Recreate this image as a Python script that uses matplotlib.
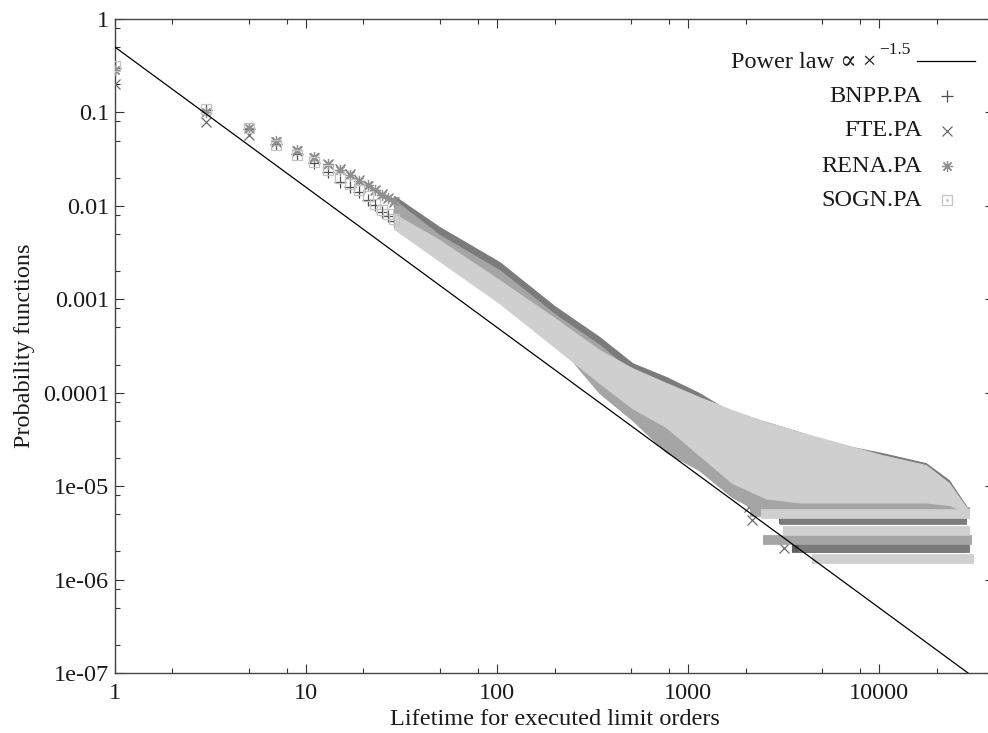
import numpy as np
import matplotlib
matplotlib.use('Agg')
import matplotlib.pyplot as plt
from matplotlib.ticker import LogLocator, FixedLocator, FixedFormatter, NullFormatter
from matplotlib.lines import Line2D

plt.rcParams['font.family'] = ['Liberation Serif', 'DejaVu Serif']

# ---- data ----
series_names = ['BNPP.PA', 'FTE.PA', 'RENA.PA', 'SOGN.PA']

# power law guide: prefactor and exponent
power_law_x = [1, 40000]
power_law_a = 0.5
power_law_k = -1.5

# separate points at small lifetimes
sparse_x = [1, 3, 5, 7, 9, 11, 13, 15, 17, 19, 21, 23, 25, 27, 29]
bnpp_sparse = [0.30, 0.106, 0.066, 0.046, 0.036, 0.029, 0.023, 0.018, 0.016, 0.014, 0.0116, 0.0102, 0.0086, 0.0078, 0.0069]
fte_sparse = [0.20, 0.079, 0.057, 0.048, 0.0385, 0.0325, 0.028, 0.0247, 0.0218, 0.0188, 0.0163, 0.0148, 0.0134, 0.0122, 0.011]
rena_sparse = [0.284, 0.101, 0.068, 0.049, 0.0396, 0.0333, 0.028, 0.0242, 0.0214, 0.0184, 0.0166, 0.0148, 0.0131, 0.0122, 0.0113]
sogn_sparse = [0.314, 0.109, 0.068, 0.045, 0.035, 0.0295, 0.0242, 0.0199, 0.0171, 0.0147, 0.0128, 0.0105, 0.0091, 0.0082, 0.0072]

# dense part: upper / lower edge of each point cloud
dense_x = [29, 50, 103, 200, 344, 511, 769, 1145, 1703, 2566, 3818, 5680, 10370, 17600, 23200, 28800]
fte_hi = [0.0127, 0.00593, 0.0025, 8.45e-4, 3.94e-4, 2.07e-4, 1.47e-4, 9.9e-5, 6.05e-5, 4.85e-5, 3.79e-5, 2.89e-5, 2.26e-5, 1.76e-5, 1.16e-5, 5.96e-6]
fte_lo = [0.0086, 0.0043, 0.00169, 5.7e-4, 2.23e-4, 1.27e-4, 8.3e-5, 5.1e-5, 2.43e-5, 1.16e-5, 7.1e-6, 6.3e-6, 6.3e-6, 6.3e-6, 5.5e-6, 4.9e-6]
rena_hi = [0.01154, 0.00487, 0.00205, 6.95e-4, 3.24e-4, 1.66e-4, 1.18e-4, 7.9e-5, 5.1e-5, 3.98e-5, 3.11e-5, 2.43e-5, 1.9e-5, 1.48e-5, 9.75e-6, 5.27e-6]
rena_lo = [0.0074, 0.0038, 0.00126, 3.66e-4, 9.9e-5, 5.1e-5, 2.31e-5, 1.48e-5, 7.6e-6, 4.9e-6, 4.9e-6, 4.9e-6, 4.9e-6, 4.9e-6, 4.9e-6, 4.54e-6]
sogn_hi = [0.00817, 0.0043, 0.0016, 6.3e-4, 2.86e-4, 1.83e-4, 1.27e-4, 8.97e-5, 6.5e-5, 4.85e-5, 3.79e-5, 3.03e-5, 2.15e-5, 1.68e-5, 1.08e-5, 5.8e-6]
sogn_lo = [0.00565, 0.00257, 9.1e-4, 3.08e-4, 1.27e-4, 6.84e-5, 4.28e-5, 2.15e-5, 1.08e-5, 7.4e-6, 6.7e-6, 6.7e-6, 6.7e-6, 6.7e-6, 6.3e-6, 5.27e-6]
bnpp_hi = [0.0078, 0.0041, 0.00153, 6.0e-4, 2.72e-4, 1.78e-4, 1.24e-4, 8.7e-5, 6.3e-5, 4.7e-5, 3.7e-5, 2.95e-5, 2.1e-5, 1.64e-5, 1.05e-5, 5.7e-6]
bnpp_lo = [0.0059, 0.0027, 9.6e-4, 3.24e-4, 1.32e-4, 7.0e-5, 4.4e-5, 2.2e-5, 1.1e-5, 7.6e-6, 6.9e-6, 6.9e-6, 6.9e-6, 6.9e-6, 6.5e-6, 5.4e-6]

# discrete low-probability levels in the tail (level, first x, last x)
bnpp_levels = [2.2e-6, 4.4e-6]
bnpp_lv_start = [3500, 3000]
bnpp_lv_end = [29000, 29000]
fte_levels = [2.17e-6, 4.35e-6]
fte_lv_start = [3818, 3030]
fte_lv_end = [29900, 28800]
rena_levels = [2.64e-6, 5.3e-6]
rena_lv_start = [2470, 2100]
rena_lv_end = [30700, 30000]
sogn_levels = [1.65e-6, 3.3e-6, 5.0e-6]
sogn_lv_start = [4460, 3140, 2400]
sogn_lv_end = [31400, 29900, 30000]

# a few isolated points near the guide line
fte_out_x = [2090, 2170, 3185]
fte_out_y = [5.96e-6, 4.3e-6, 2.17e-6]

x_ticks = [1, 10, 100, 1000, 10000]
x_tick_labels = ['1', '10', '100', '1000', '10000']
y_ticks = [1, 0.1, 0.01, 0.001, 0.0001, 1e-5, 1e-6, 1e-7]
y_tick_labels = ['1', '0.1', '0.01', '0.001', '0.0001', '1e-05', '1e-06', '1e-07']

# ---- styles ----
mark_col = ['#4d4d4d', '#6b6b6b', '#8f8f8f', '#c4c4c4']
band_col = ['#5e5e5e', '#7b7b7b', '#a5a5a5', '#cfcfcf']
markers = ['+', 'x', (8, 2, 0), 's']
msize = [8, 7, 8, 6.5]
fs = 17.5

fig = plt.figure(figsize=(9.88, 7.33), dpi=100)
ax = fig.add_axes([115 / 988, 60 / 733, 879 / 988, 654 / 733])
ax.set_xscale('log')
ax.set_yscale('log')

sparse = [bnpp_sparse, fte_sparse, rena_sparse, sogn_sparse]
his = [bnpp_hi, fte_hi, rena_hi, sogn_hi]
los = [bnpp_lo, fte_lo, rena_lo, sogn_lo]
levels = [(bnpp_levels, bnpp_lv_start, bnpp_lv_end),
          (fte_levels, fte_lv_start, fte_lv_end),
          (rena_levels, rena_lv_start, rena_lv_end),
          (sogn_levels, sogn_lv_start, sogn_lv_end)]

for i in range(4):
    z = 2 + i
    ax.fill_between(dense_x, los[i], his[i], color=band_col[i], lw=0.8,
                    edgecolor=band_col[i], zorder=z)
    lv, st, en = levels[i]
    ax.hlines(lv, st, en, colors=band_col[i], lw=7, zorder=z)
    if i == 1:
        ax.plot(fte_out_x, fte_out_y, ls='none', marker='x', ms=msize[i],
                mew=0.9, color=mark_col[i], zorder=z)
    ax.plot(sparse_x, sparse[i], ls='none', marker=markers[i], ms=msize[i],
            mew=0.9, color=mark_col[i], mfc='none', zorder=z + 0.5)

px = np.array(power_law_x, dtype=float)
ax.plot(px, power_law_a * px ** power_law_k, color='black', lw=0.9, zorder=10)

ax.set_xlim(1, 40000)
ax.set_ylim(1e-7, 1)

ax.xaxis.set_major_locator(FixedLocator(x_ticks))
ax.xaxis.set_major_formatter(FixedFormatter(x_tick_labels))
ax.yaxis.set_major_locator(FixedLocator(y_ticks))
ax.yaxis.set_major_formatter(FixedFormatter(y_tick_labels))
ax.xaxis.set_minor_locator(LogLocator(base=10, subs=[2, 5, 8], numticks=20))
ax.yaxis.set_minor_locator(LogLocator(base=10, subs=[2, 5, 8], numticks=20))
ax.xaxis.set_minor_formatter(NullFormatter())
ax.yaxis.set_minor_formatter(NullFormatter())

ax.tick_params(which='both', direction='in', top=True, right=True,
               color='#333333', width=0.8, labelsize=fs, labelcolor='#1a1a1a')
ax.tick_params(which='major', length=6.5)
ax.tick_params(which='minor', length=3.6)
ax.tick_params(axis='x', pad=7)
ax.tick_params(axis='y', pad=4)
for s in ax.spines.values():
    s.set_color('#444444')
    s.set_linewidth(1.0)

ax.set_xlabel('Lifetime for executed limit orders', fontsize=fs, color='#1a1a1a', labelpad=4)
ax.set_ylabel('Probability functions', fontsize=fs, color='#1a1a1a', labelpad=6)

# ---- legend, gnuplot style ----
def fx(p):
    return p / 988


def fy(p):
    return 1 - p / 733


fig.text(fx(876), fy(63), 'Power law ∝ ×', ha='right', va='center', fontsize=fs, color='#1a1a1a')
fig.text(fx(879), fy(50), '−1.5', ha='left', va='center', fontsize=12.5, color='#1a1a1a')
fig.add_artist(Line2D([fx(917), fx(975)], [fy(61), fy(61)], color='black', lw=0.9))

rows = [96, 131, 166, 200]
for i, name in enumerate(series_names):
    fig.text(fx(922), fy(rows[i]), name, ha='right', va='center', fontsize=fs, color='#1a1a1a')
    ax.plot([fx(947)], [fy(rows[i])], ls='none', marker=markers[i], ms=msize[i], mew=0.9,
            color=mark_col[i], mfc='none', transform=fig.transFigure, clip_on=False)
ax.plot([fx(947)], [fy(rows[3])], ls='none', marker='.', ms=2, color=mark_col[3],
        transform=fig.transFigure, clip_on=False)

fig.savefig('out.png', dpi=100)
